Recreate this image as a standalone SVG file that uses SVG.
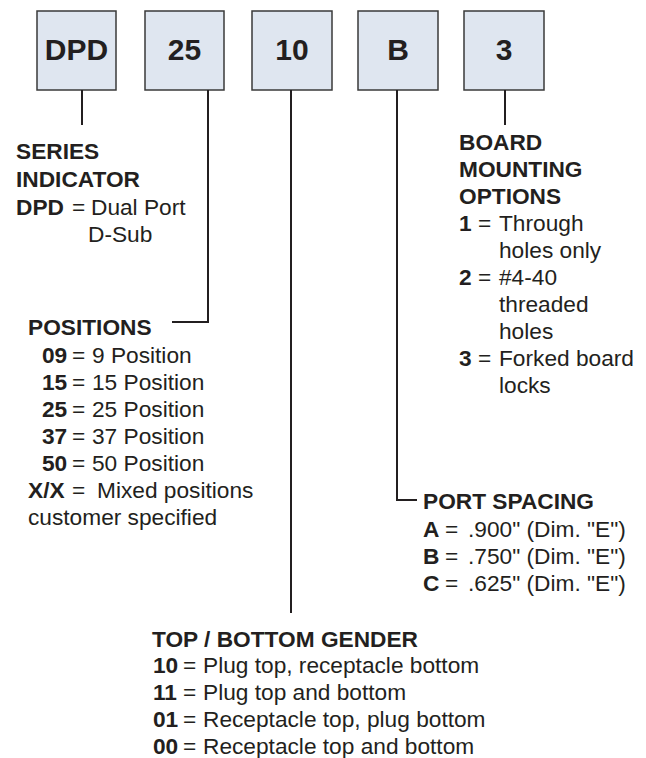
<svg xmlns="http://www.w3.org/2000/svg" width="646" height="758" viewBox="0 0 646 758">
<style>
  .box { fill: #dfe6f0; stroke: #3a3a3a; stroke-width: 1.5; }
  .code { font-family: "Liberation Sans", Arial, sans-serif; font-size: 30px; font-weight: bold; fill: #231f20; text-anchor: middle; }
  .t { font-family: "Liberation Sans", Arial, sans-serif; font-size: 22.7px; fill: #231f20; }
  .b { font-weight: bold; }
  .conn { fill: none; stroke: #231f20; stroke-width: 2; }
</style>
<rect width="646" height="758" fill="#ffffff"/>

<g id="node-dpd">
  <rect class="box" x="37" y="11" width="79" height="79"/>
  <text class="code" x="76.5" y="60">DPD</text>
</g>
<g id="node-25">
  <rect class="box" x="145" y="11" width="79" height="79"/>
  <text class="code" x="184.5" y="60">25</text>
</g>
<g id="node-10">
  <rect class="box" x="252" y="11" width="80" height="79"/>
  <text class="code" x="292" y="60">10</text>
</g>
<g id="node-b">
  <rect class="box" x="358" y="11" width="80" height="79"/>
  <text class="code" x="398" y="60">B</text>
</g>
<g id="node-3">
  <rect class="box" x="464" y="11" width="80" height="79"/>
  <text class="code" x="504" y="60">3</text>
</g>

<g id="connectors">
  <path class="conn" d="M82 90 V125"/>
  <path class="conn" d="M208 90 V322 H172"/>
  <path class="conn" d="M291 90 V613"/>
  <path class="conn" d="M397 90 V500 H417"/>
  <path class="conn" d="M505 90 V125"/>
</g>

<g id="series-indicator" class="t">
  <text class="b" x="16" y="159">SERIES</text>
  <text class="b" x="16" y="187">INDICATOR</text>
  <text y="215"><tspan class="b" x="16">DPD</tspan><tspan x="72">=</tspan><tspan x="91">Dual Port</tspan></text>
  <text x="88" y="242">D-Sub</text>
</g>

<g id="positions" class="t">
  <text class="b" x="28" y="335">POSITIONS</text>
  <text y="363"><tspan class="b" x="42">09</tspan><tspan x="72">=</tspan><tspan x="92">9 Position</tspan></text>
  <text y="390"><tspan class="b" x="42">15</tspan><tspan x="72">=</tspan><tspan x="92">15 Position</tspan></text>
  <text y="417"><tspan class="b" x="42">25</tspan><tspan x="72">=</tspan><tspan x="92">25 Position</tspan></text>
  <text y="444"><tspan class="b" x="42">37</tspan><tspan x="72">=</tspan><tspan x="92">37 Position</tspan></text>
  <text y="471"><tspan class="b" x="42">50</tspan><tspan x="72">=</tspan><tspan x="92">50 Position</tspan></text>
  <text y="498"><tspan class="b" x="28">X/X</tspan><tspan x="72">=</tspan><tspan x="97">Mixed positions</tspan></text>
  <text x="28" y="525">customer specified</text>
</g>

<g id="board-mounting" class="t">
  <text class="b" x="459" y="150">BOARD</text>
  <text class="b" x="459" y="177">MOUNTING</text>
  <text class="b" x="459" y="204">OPTIONS</text>
  <text y="231"><tspan class="b" x="459">1</tspan><tspan x="478">=</tspan><tspan x="499">Through</tspan></text>
  <text x="499" y="258">holes only</text>
  <text y="285"><tspan class="b" x="459">2</tspan><tspan x="478">=</tspan><tspan x="499">#4-40</tspan></text>
  <text x="499" y="312">threaded</text>
  <text x="499" y="339">holes</text>
  <text y="366"><tspan class="b" x="459">3</tspan><tspan x="478">=</tspan><tspan x="499">Forked board</tspan></text>
  <text x="499" y="393">locks</text>
</g>

<g id="port-spacing" class="t">
  <text class="b" x="423" y="509">PORT SPACING</text>
  <text y="537"><tspan class="b" x="423">A</tspan><tspan x="445">=</tspan><tspan x="468">.900" (Dim. "E")</tspan></text>
  <text y="564"><tspan class="b" x="423">B</tspan><tspan x="445">=</tspan><tspan x="468">.750" (Dim. "E")</tspan></text>
  <text y="591"><tspan class="b" x="423">C</tspan><tspan x="445">=</tspan><tspan x="468">.625" (Dim. "E")</tspan></text>
</g>

<g id="gender" class="t">
  <text class="b" x="152" y="647">TOP / BOTTOM GENDER</text>
  <text y="673"><tspan class="b" x="153">10</tspan><tspan x="183">=</tspan><tspan x="203">Plug top, receptacle bottom</tspan></text>
  <text y="700"><tspan class="b" x="153">11</tspan><tspan x="183">=</tspan><tspan x="203">Plug top and bottom</tspan></text>
  <text y="727"><tspan class="b" x="153">01</tspan><tspan x="183">=</tspan><tspan x="203">Receptacle top, plug bottom</tspan></text>
  <text y="754"><tspan class="b" x="153">00</tspan><tspan x="183">=</tspan><tspan x="203">Receptacle top and bottom</tspan></text>
</g>
</svg>
